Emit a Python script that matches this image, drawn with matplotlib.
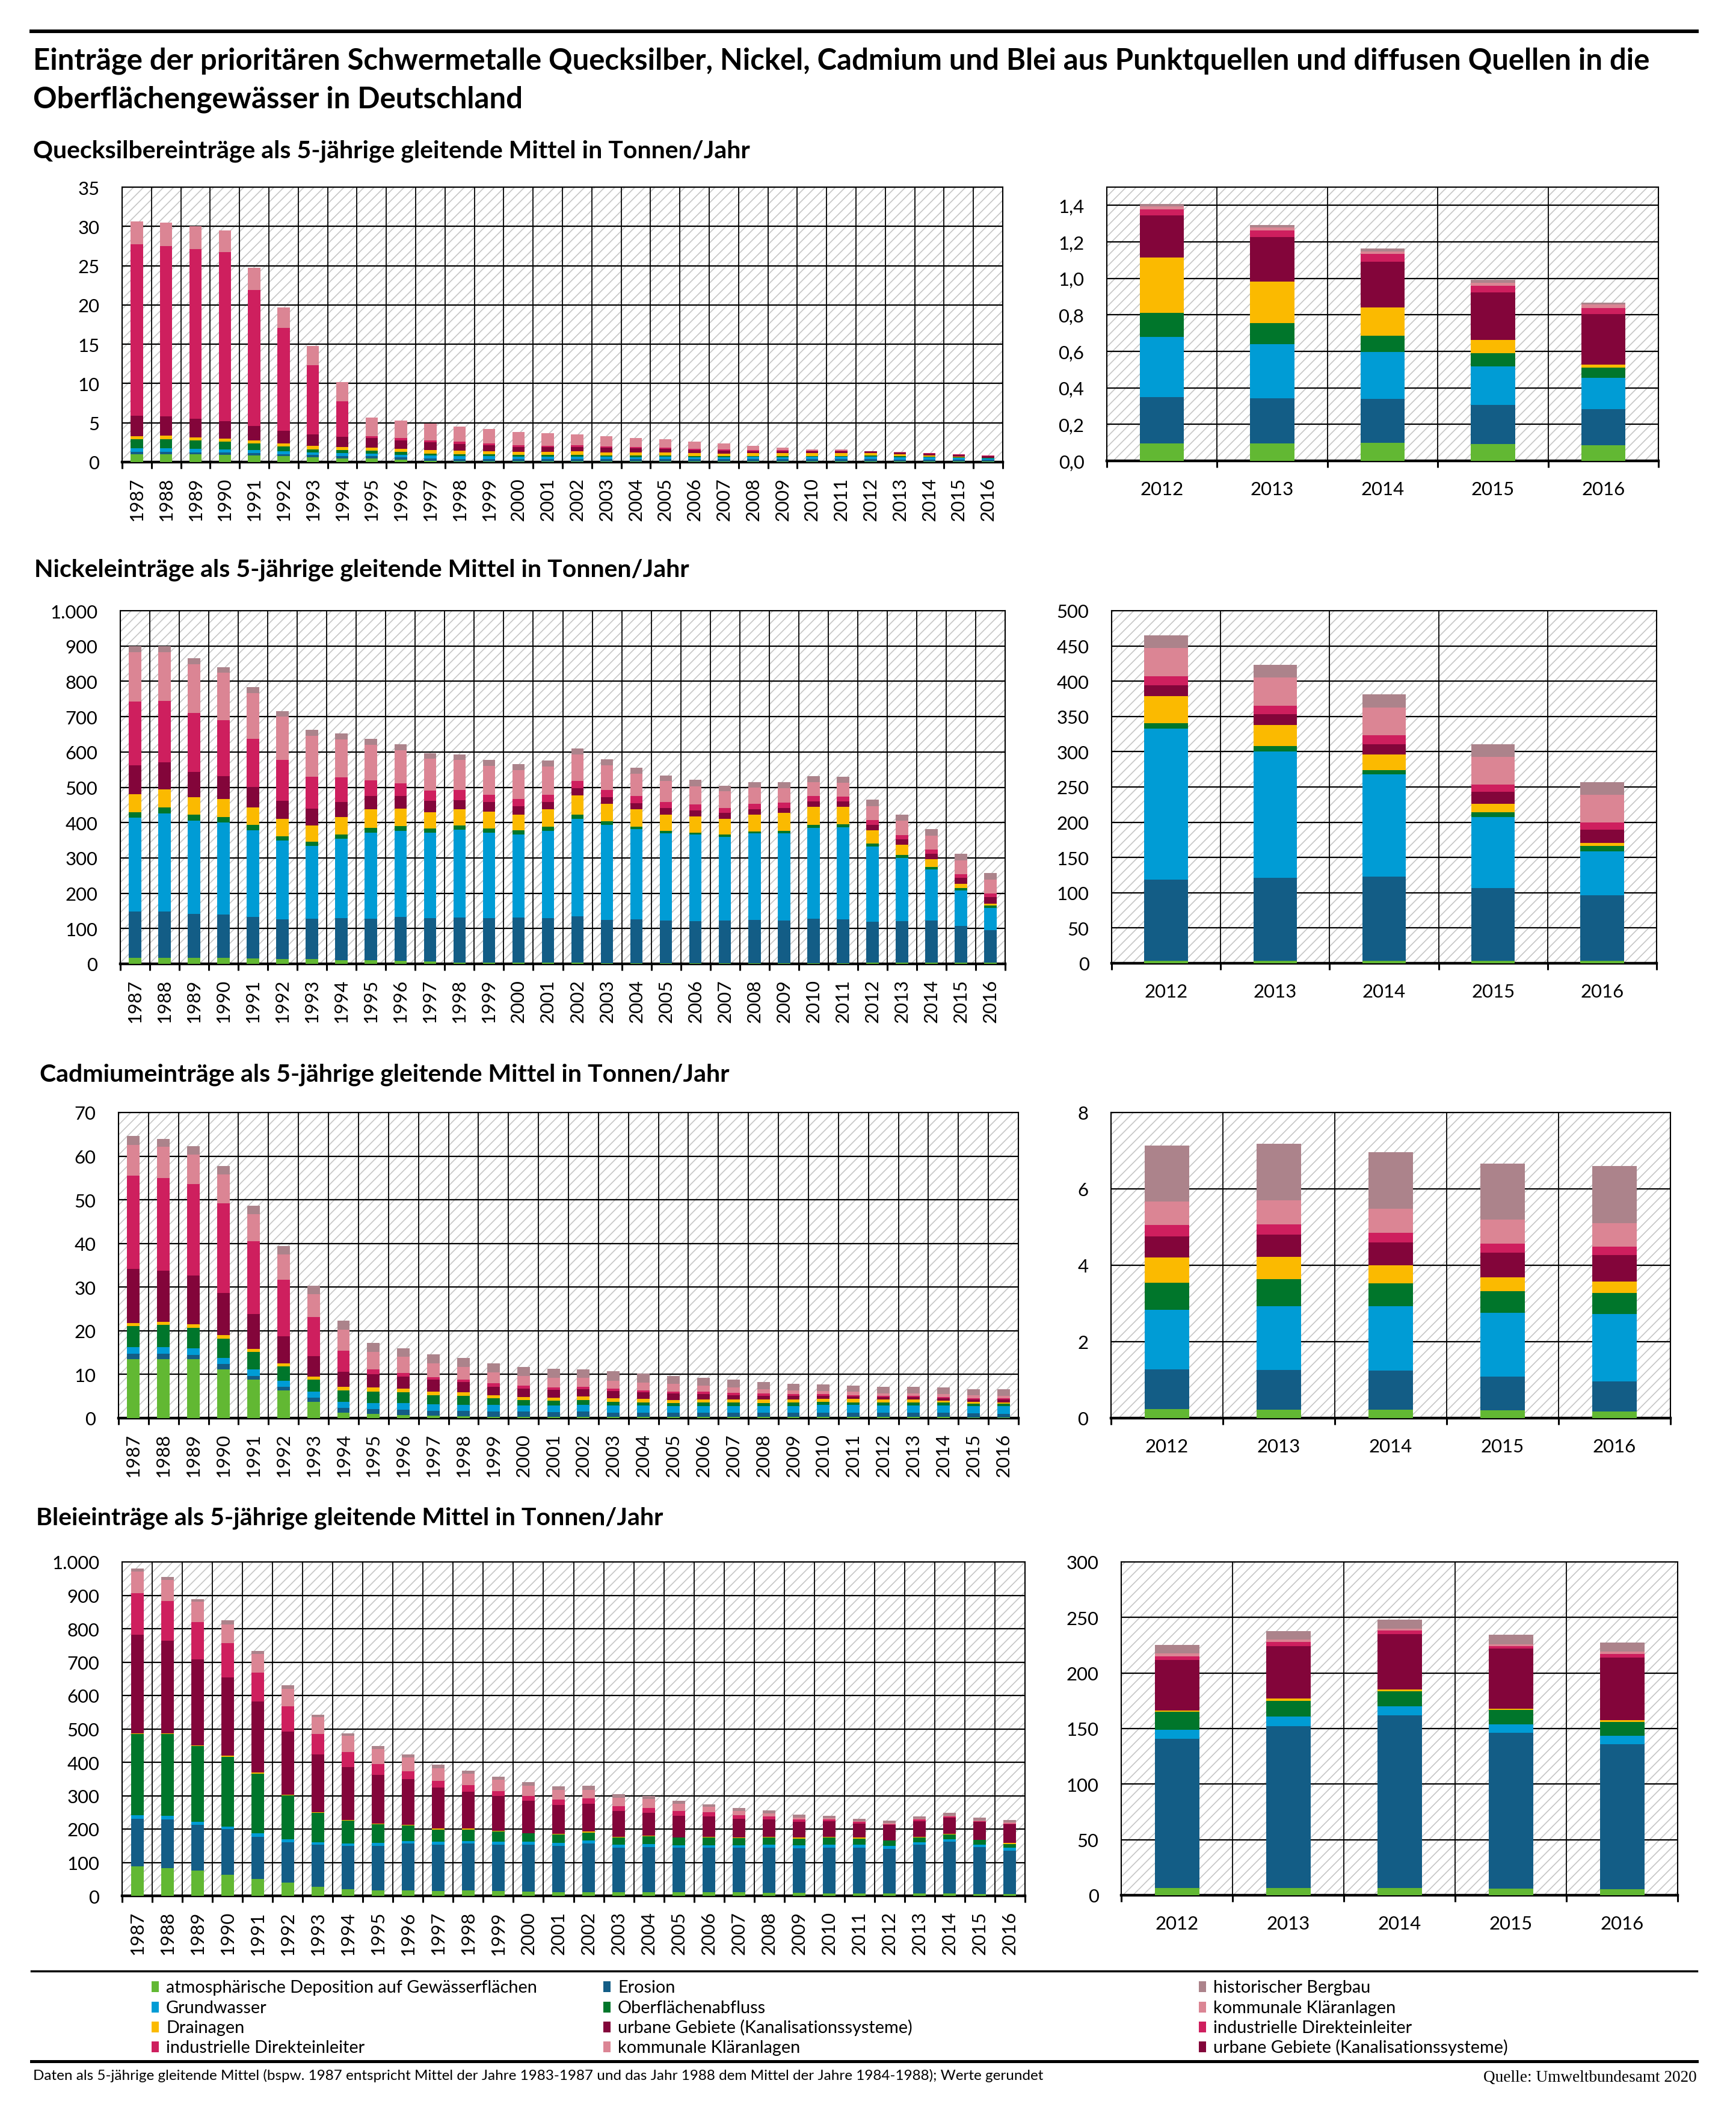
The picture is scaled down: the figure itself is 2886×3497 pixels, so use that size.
import numpy as np
import matplotlib
matplotlib.use('Agg')
import matplotlib.pyplot as plt
from matplotlib import font_manager
from matplotlib.patches import Rectangle
from matplotlib.lines import Line2D

# ---------------------------------------------------------------- data
YEARS = [str(y) for y in range(1987, 2017)]
YEARS_RECENT = YEARS[-5:]

SERIES_KEYS = ['atm', 'ero', 'gw', 'ofa', 'drain', 'urb', 'ind', 'kom', 'berg']
COLORS = {
    'atm': '#62B833', 'ero': '#135D86', 'gw': '#009CD5', 'ofa': '#00762B',
    'drain': '#FBBA00', 'urb': '#83053A', 'ind': '#CE1F5E', 'kom': '#DB8594',
    'berg': '#AC838B',
}

# Quecksilber (t/a)
HG_ATM = [1.0, 1.0, 1.0, 0.9, 0.82, 0.77, 0.61, 0.49, 0.43, 0.28, 0.12, 0.09, 0.09, 0.09, 0.09,
          0.09, 0.09, 0.09, 0.09, 0.09, 0.09, 0.09, 0.09, 0.09, 0.09, 0.095, 0.096, 0.1, 0.091, 0.086]
HG_ERO = [0.33, 0.33, 0.25, 0.35, 0.31, 0.25, 0.29, 0.28, 0.31, 0.33, 0.35, 0.29, 0.29, 0.26, 0.26,
          0.26, 0.26, 0.26, 0.26, 0.26, 0.26, 0.26, 0.26, 0.26, 0.26, 0.253, 0.248, 0.239, 0.215, 0.198]
HG_GW = [0.43, 0.43, 0.44, 0.34, 0.40, 0.36, 0.35, 0.41, 0.31, 0.34, 0.35, 0.35, 0.36, 0.32, 0.32,
         0.36, 0.32, 0.30, 0.32, 0.30, 0.30, 0.32, 0.30, 0.32, 0.32, 0.33, 0.297, 0.257, 0.21, 0.172]
HG_OFA = [1.16, 1.18, 1.05, 1.02, 0.87, 0.64, 0.39, 0.32, 0.38, 0.35, 0.29, 0.30, 0.26, 0.24, 0.22,
          0.21, 0.20, 0.18, 0.15, 0.13, 0.12, 0.11, 0.10, 0.10, 0.10, 0.133, 0.113, 0.09, 0.074, 0.054]
HG_DRAIN = [0.38, 0.41, 0.43, 0.41, 0.34, 0.38, 0.41, 0.42, 0.41, 0.41, 0.39, 0.40, 0.41, 0.41, 0.43,
            0.43, 0.39, 0.37, 0.38, 0.34, 0.32, 0.34, 0.37, 0.35, 0.35, 0.304, 0.228, 0.155, 0.073, 0.019]
HG_URB = [2.63, 2.45, 2.33, 2.15, 1.84, 1.6, 1.45, 1.33, 1.2, 1.08, 1.02, 0.88, 0.76, 0.62, 0.58,
          0.55, 0.56, 0.56, 0.50, 0.41, 0.38, 0.29, 0.29, 0.29, 0.29, 0.231, 0.243, 0.25, 0.261, 0.274]
HG_IND = [21.79, 21.7, 21.6, 21.53, 17.32, 13.1, 8.8, 4.5, 0.26, 0.28, 0.21, 0.29, 0.21, 0.20, 0.15,
          0.24, 0.18, 0.14, 0.10, 0.17, 0.17, 0.12, 0.15, 0.06, 0.06, 0.031, 0.036, 0.042, 0.035, 0.036]
HG_KOM = [2.94, 3.0, 2.9, 2.76, 2.8, 2.6, 2.5, 2.4, 2.38, 2.23, 2.14, 1.89, 1.82, 1.67, 1.65,
          1.41, 1.26, 1.18, 1.13, 0.88, 0.71, 0.52, 0.29, 0.14, 0.11, 0.017, 0.017, 0.015, 0.017, 0.017]
HG_BERG = [0.01, 0.01, 0.01, 0.01, 0.01, 0.01, 0.01, 0.01, 0.01, 0.01, 0.01, 0.01, 0.01, 0.01, 0.01,
           0.01, 0.01, 0.01, 0.01, 0.01, 0.01, 0.01, 0.01, 0.01, 0.01, 0.015, 0.013, 0.015, 0.015, 0.011]

# Nickel (t/a)
NI_ATM = [17, 17, 17, 17, 15, 14, 13, 11, 10, 8, 6, 4, 3, 3, 3, 3, 2, 2, 2, 2, 2, 2, 2, 2, 2,
          3.5, 3.5, 3.5, 3.5, 3.5]
NI_ERO = [131, 131, 125, 123, 118, 112, 115, 119, 118, 125, 124, 127, 127, 128, 127, 132, 122, 124,
          121, 119, 121, 122, 121, 126, 124, 115, 118, 119.5, 103.5, 92.5]
NI_GW = [266, 278, 264, 260, 246, 224, 206, 225, 243, 244, 241, 249, 242, 235, 246, 275, 269, 255,
         247, 246, 237, 245, 247, 257, 261, 214.5, 179, 145, 100, 63]
NI_OFA = [16, 17, 16, 16, 14, 12, 11, 12, 14, 13, 12, 11, 12, 12, 13, 13, 10, 8, 7, 5, 6, 6, 7, 9, 9,
          7.6, 7.5, 6, 7, 7]
NI_DRAIN = [51, 51, 50, 50, 50, 48, 46, 49, 52, 50, 47, 47, 47, 44, 48, 54, 50, 48, 46, 46, 44, 48,
            50, 51, 49, 38.4, 30, 22, 12, 5]
NI_URB = [82, 77, 72, 65, 58, 52, 48, 42, 39, 35, 32, 25, 27, 25, 22, 21, 19, 18, 18, 17, 17, 15, 15,
          15, 15, 15, 15, 15, 17, 18]
NI_IND = [179, 173, 166, 159, 136, 115, 91, 70, 44, 36, 29, 30, 20, 19, 20, 20, 20, 20, 17, 16, 15,
          15, 15, 15, 14, 13, 12, 12, 10, 10.5]
NI_KOM = [141, 139, 139, 134, 129, 123, 116, 108, 100, 93, 90, 84, 83, 82, 80, 75, 71, 64, 60, 52,
          47, 46, 41, 39, 39, 40, 40, 40, 40, 39.5]
NI_BERG = [17, 17, 16, 16, 17, 16, 17, 16, 17, 17, 16, 16, 16, 17, 17, 17, 16, 17, 16, 18, 16, 16,
           17, 17, 17, 18, 18, 18, 18, 18]

# Cadmium (t/a)
CD_ATM = [13.5, 13.5, 13.5, 11.1, 8.8, 6.3, 3.75, 1.3, 0.9, 0.7, 0.5, 0.4, 0.3, 0.3, 0.3, 0.3, 0.25,
          0.25, 0.25, 0.25, 0.25, 0.25, 0.25, 0.25, 0.25, 0.23, 0.22, 0.22, 0.2, 0.17]
CD_ERO = [1.2, 1.2, 1.0, 1.3, 0.8, 0.9, 0.95, 1.0, 1.1, 1.2, 1.1, 1.2, 1.2, 1.15, 1.1, 1.15, 1.05,
          1.05, 1.05, 1.05, 1.05, 1.05, 1.05, 1.05, 1.05, 1.04, 1.04, 1.02, 0.88, 0.79]
CD_GW = [1.6, 1.6, 1.5, 1.4, 1.5, 1.4, 1.3, 1.4, 1.5, 1.5, 1.6, 1.5, 1.5, 1.45, 1.5, 1.55, 1.6, 1.6,
         1.5, 1.5, 1.5, 1.5, 1.5, 1.7, 1.7, 1.57, 1.67, 1.69, 1.67, 1.76]
CD_OFA = [4.8, 5.0, 4.7, 4.4, 4.1, 3.3, 2.8, 2.7, 2.6, 2.5, 2.1, 2.0, 1.5, 1.2, 1.05, 1.2, 0.85, 0.7,
          0.7, 0.8, 0.8, 0.7, 0.75, 0.7, 0.6, 0.7, 0.71, 0.6, 0.58, 0.55]
CD_DRAIN = [0.7, 0.8, 0.8, 0.8, 0.7, 0.7, 0.7, 0.8, 0.9, 0.9, 0.8, 0.8, 0.7, 0.7, 0.75, 0.7, 0.75,
            0.8, 0.7, 0.7, 0.7, 0.8, 0.75, 0.65, 0.8, 0.67, 0.58, 0.47, 0.36, 0.3]
CD_URB = [12.4, 11.7, 11.2, 9.6, 7.9, 6.2, 4.7, 3.4, 3.0, 2.7, 2.7, 2.3, 2.0, 2.0, 1.8, 1.7, 1.7, 1.5,
          1.5, 1.2, 1.0, 0.8, 0.8, 0.75, 0.5, 0.55, 0.58, 0.6, 0.64, 0.69]
CD_IND = [21.4, 21.2, 20.9, 20.6, 16.7, 12.9, 8.9, 4.9, 1.1, 0.9, 0.6, 0.6, 0.8, 0.6, 0.5, 0.6, 0.5,
          0.5, 0.4, 0.5, 0.5, 0.5, 0.4, 0.4, 0.4, 0.3, 0.27, 0.25, 0.24, 0.23]
CD_KOM = [7.0, 7.1, 6.8, 6.6, 6.2, 5.8, 5.3, 4.7, 4.1, 3.6, 3.2, 2.9, 2.5, 2.3, 2.3, 2.0, 1.9, 1.7,
          1.7, 1.4, 1.2, 1.0, 0.9, 0.7, 0.7, 0.61, 0.63, 0.63, 0.63, 0.61]
CD_BERG = [2.0, 1.8, 1.9, 1.9, 2.0, 1.9, 1.9, 2.1, 2.0, 2.0, 2.0, 2.1, 2.1, 2.0, 2.0, 2.0, 2.1, 2.1,
           1.9, 1.9, 1.8, 1.7, 1.5, 1.5, 1.4, 1.47, 1.48, 1.48, 1.46, 1.5]

# Blei (t/a)
PB_ATM = [88, 83, 76, 63, 50, 39, 27, 19, 17, 17, 15, 17, 15, 13, 11.5, 11.5, 10, 10, 11, 11, 11,
          9.6, 9.6, 7.8, 7.8, 6.6, 6.6, 6.6, 6.1, 5.3]
PB_ERO = [143, 145, 137, 137, 127, 122, 127, 130, 133, 140, 139, 140, 139, 141, 138.5, 145.5, 135,
          136, 133, 133, 133, 135.4, 132.9, 137.2, 136.2, 134.1, 145.8, 155.1, 139.9, 130.4]
PB_GW = [10, 11, 9, 8, 10, 8, 7, 7, 8, 7, 8, 7, 8, 8, 8, 8, 8, 9, 8, 8, 8, 9, 8.5, 8, 9, 8.3, 8.6,
         8.3, 8, 7.9]
PB_OFA = [244, 246, 226, 209, 179, 132, 88, 69, 57, 46, 37, 35, 30, 25, 26, 25, 21, 24, 22, 23, 21,
          21, 21, 21, 18, 16, 14, 13.4, 13, 12.2]
PB_DRAIN = [2, 2, 3, 3, 3, 1, 2, 2, 2, 2, 2, 2, 2, 1, 2, 2, 3, 2, 1, 2, 2, 2, 2, 3, 3, 1.5, 2, 1.6,
            1, 1.9]
PB_URB = [295, 277, 257, 234, 213, 190, 173, 159, 146, 137, 123, 111, 105, 97, 86, 84, 77, 68, 64,
          60, 56, 52, 48, 47, 43, 45.5, 47, 50, 54, 56.3]
PB_IND = [124, 119, 111, 103, 87, 76, 61, 45, 32, 24, 21, 20, 15, 14, 16, 16, 14, 14, 15, 13, 11, 9,
          7, 5, 5, 3, 4, 3, 2, 3]
PB_KOM = [65, 63, 62, 56, 56, 52, 50, 48, 44, 41, 37, 33, 33, 31, 30, 26, 26, 27, 21, 16, 12, 9, 6,
          3, 2, 2.5, 2, 2, 2, 2.5]
PB_BERG = [9, 9, 8, 12, 9, 10, 8, 8, 9, 9, 10, 9, 9, 10, 10, 11, 10, 9, 9, 8, 9, 9, 8, 8, 7, 8, 7.6,
           8.2, 8.4, 7.7]

HG = dict(zip(SERIES_KEYS, [HG_ATM, HG_ERO, HG_GW, HG_OFA, HG_DRAIN, HG_URB, HG_IND, HG_KOM, HG_BERG]))
NI = dict(zip(SERIES_KEYS, [NI_ATM, NI_ERO, NI_GW, NI_OFA, NI_DRAIN, NI_URB, NI_IND, NI_KOM, NI_BERG]))
CD = dict(zip(SERIES_KEYS, [CD_ATM, CD_ERO, CD_GW, CD_OFA, CD_DRAIN, CD_URB, CD_IND, CD_KOM, CD_BERG]))
PB = dict(zip(SERIES_KEYS, [PB_ATM, PB_ERO, PB_GW, PB_OFA, PB_DRAIN, PB_URB, PB_IND, PB_KOM, PB_BERG]))

TITLE_1 = ('Einträge der prioritären Schwermetalle Quecksilber, Nickel, Cadmium und Blei aus '
           'Punktquellen und diffusen Quellen in die')
TITLE_2 = 'Oberflächengewässer in Deutschland'
SUBTITLES = ['Quecksilbereinträge als 5-jährige gleitende Mittel in Tonnen/Jahr',
             'Nickeleinträge als 5-jährige gleitende Mittel in Tonnen/Jahr',
             'Cadmiumeinträge als 5-jährige gleitende Mittel in Tonnen/Jahr',
             'Bleieinträge als 5-jährige gleitende Mittel in Tonnen/Jahr']

LEGEND_COLUMNS = [
    [('atm', 'atmosphärische Deposition auf Gewässerflächen'), ('gw', 'Grundwasser'),
     ('drain', 'Drainagen'), ('ind', 'industrielle Direkteinleiter')],
    [('ero', 'Erosion'), ('ofa', 'Oberflächenabfluss'),
     ('urb', 'urbane Gebiete (Kanalisationssysteme)'), ('kom', 'kommunale Kläranlagen')],
    [('berg', 'historischer Bergbau'), ('kom', 'kommunale Kläranlagen'),
     ('ind', 'industrielle Direkteinleiter'), ('urb', 'urbane Gebiete (Kanalisationssysteme)')],
]
FOOTNOTE = ('Daten als 5-jährige gleitende Mittel (bspw. 1987 entspricht Mittel der Jahre 1983-1987 '
            'und das Jahr 1988 dem Mittel der Jahre 1984-1988); Werte gerundet')
SOURCE = 'Quelle: Umweltbundesamt 2020'

# ---------------------------------------------------------------- style
W, H, DPI = 2886, 3498, 100
names = {f.name for f in font_manager.fontManager.ttflist}


def pick(*cands):
    for c in cands:
        if c in names:
            return c
    return 'DejaVu Sans'


F_COND = pick('Liberation Sans Narrow', 'Lato', 'Roboto')
F_TEXT = pick('Lato', 'Roboto', 'Liberation Sans')
F_SERIF = pick('Liberation Serif', 'DejaVu Serif')
plt.rcParams['font.family'] = [F_TEXT, 'DejaVu Sans']
plt.rcParams['hatch.linewidth'] = 1.2
HATCH = '#C6C6C6'

fig = plt.figure(figsize=(W / DPI, H / DPI), dpi=DPI)
fig.patch.set_facecolor('white')
renderer = fig.canvas.get_renderer()


def fx(px):
    return px / W


def fy(py):
    return 1 - py / H


def fitted_size(s, width_px, **kw):
    t = fig.text(0, 0, s, fontsize=20, **kw)
    w = t.get_window_extent(renderer).width
    t.remove()
    return 20 * width_px / w


TICK_FS = fitted_size('2012', 72)


def make_axes(x0, y0, x1, y1):
    return fig.add_axes([fx(x0), fy(y1), (x1 - x0) / W, (y1 - y0) / H])


def draw_chart(ax, cats, data, bar_w, ymax, yticks, ylabels, rot, pad_x):
    n = len(cats)
    x = np.arange(n)
    ax.set_xlim(-0.5, n - 0.5)
    ax.set_ylim(0, ymax)
    ax.set_facecolor('white')
    ax.add_patch(Rectangle((0, 0), 1, 1, transform=ax.transAxes, facecolor='white',
                           edgecolor=HATCH, hatch='//', linewidth=0, zorder=0))
    bottom = np.zeros(n)
    for k in SERIES_KEYS:
        v = np.asarray(data[k], dtype=float)
        ax.bar(x, v, bar_w, bottom=bottom, color=COLORS[k], edgecolor='none',
               linewidth=0, zorder=3)
        bottom += v
    ax.set_yticks(yticks)
    ax.set_yticklabels(ylabels)
    ax.set_xticks(x)
    ax.set_xticklabels(cats)
    ax.set_xticks(np.arange(n + 1) - 0.5, minor=True)
    ax.set_axisbelow(True)
    ax.yaxis.grid(True, which='major', color='black', linewidth=1.6)
    ax.xaxis.grid(True, which='minor', color='black', linewidth=1.3)
    ax.xaxis.grid(False, which='major')
    ax.tick_params(axis='x', which='major', length=0, pad=pad_x, labelsize=TICK_FS,
                   labelrotation=rot)
    ax.tick_params(axis='x', which='minor', length=8, width=2.2, direction='out',
                   color='black')
    ax.tick_params(axis='y', which='both', length=0, pad=27, labelsize=TICK_FS)
    for s in ['top', 'left', 'right']:
        ax.spines[s].set_linewidth(1.5)
        ax.spines[s].set_color('black')
    ax.spines['bottom'].set_linewidth(3.2)
    ax.spines['bottom'].set_color('black')


def recent(d):
    return {k: v[-5:] for k, v in d.items()}


thousand = [str(v) if v < 1000 else '1.000' for v in range(0, 1001, 100)]

charts = [
    # data, left rect, right rect, left axis, right axis
    (HG, (203, 312, 1667, 769), (1840, 312, 2757, 767),
     (35, list(range(0, 36, 5)), [str(v) for v in range(0, 36, 5)]),
     (1.5, [0, 0.2, 0.4, 0.6, 0.8, 1.0, 1.2, 1.4],
      ['0,0', '0,2', '0,4', '0,6', '0,8', '1,0', '1,2', '1,4'])),
    (NI, (200, 1016, 1671, 1603), (1848, 1016, 2754, 1602),
     (1000, list(range(0, 1001, 100)), thousand),
     (500, list(range(0, 501, 50)), [str(v) for v in range(0, 501, 50)])),
    (CD, (197, 1850, 1693, 2358), (1847, 1850, 2777, 2358),
     (70, list(range(0, 71, 10)), [str(v) for v in range(0, 71, 10)]),
     (8, [0, 2, 4, 6, 8], ['0', '2', '4', '6', '8'])),
    (PB, (203, 2597, 1704, 3152), (1864, 2597, 2789, 3151),
     (1000, list(range(0, 1001, 100)), thousand),
     (300, list(range(0, 301, 50)), [str(v) for v in range(0, 301, 50)])),
]

for data, lrect, rrect, laxis, raxis in charts:
    axl = make_axes(*lrect)
    draw_chart(axl, YEARS, data, 0.42, laxis[0], laxis[1], laxis[2], 90, 18)
    axr = make_axes(*rrect)
    draw_chart(axr, YEARS_RECENT, recent(data), 0.40, raxis[0], raxis[1], raxis[2], 0, 24)

# ---------------------------------------------------------------- texts
title_fs = fitted_size(TITLE_1, 2690, family=F_COND, weight='bold')
fig.text(fx(55), fy(115), TITLE_1, fontsize=title_fs, family=F_COND, weight='bold', va='baseline')
fig.text(fx(55), fy(180), TITLE_2, fontsize=title_fs, family=F_COND, weight='bold', va='baseline')

sub_fs = fitted_size(SUBTITLES[0], 1193, family=F_COND, weight='bold')
sub_pos = [(55, 262), (57, 959), (66, 1798), (60, 2535)]
for s, (sx, sy) in zip(SUBTITLES, sub_pos):
    fig.text(fx(sx), fy(sy), s, fontsize=sub_fs, family=F_COND, weight='bold', va='baseline')

# separator lines
fig.add_artist(Line2D([fx(52), fx(2821)], [fy(53), fy(53)], color='black', linewidth=4.3))
fig.add_artist(Line2D([fx(52), fx(2821)], [fy(3277), fy(3277)], color='black', linewidth=2.5))
fig.add_artist(Line2D([fx(52), fx(2821)], [fy(3427), fy(3427)], color='black', linewidth=3.6))

# legend
leg_fs = fitted_size(LEGEND_COLUMNS[0][0][1], 620)
col_x = [252, 1003, 1993]
row_y = [3303, 3337, 3370, 3403]
for cx, col in zip(col_x, LEGEND_COLUMNS):
    for ry, (key, label) in zip(row_y, col):
        fig.add_artist(Rectangle((fx(cx), fy(ry + 9)), 12 / W, 18 / H,
                                 transform=fig.transFigure, facecolor=COLORS[key],
                                 edgecolor='none'))
        fig.text(fx(cx + 24), fy(ry + 9), label, fontsize=leg_fs, va='baseline')

foot_fs = fitted_size(FOOTNOTE, 1684)
fig.text(fx(55), fy(3457), FOOTNOTE, fontsize=foot_fs, va='baseline')
src_fs = fitted_size(SOURCE, 355, family=F_SERIF)
fig.text(fx(2821), fy(3460), SOURCE, fontsize=src_fs, family=F_SERIF, ha='right', va='baseline')

fig.savefig('out.png', dpi=DPI, facecolor='white')
